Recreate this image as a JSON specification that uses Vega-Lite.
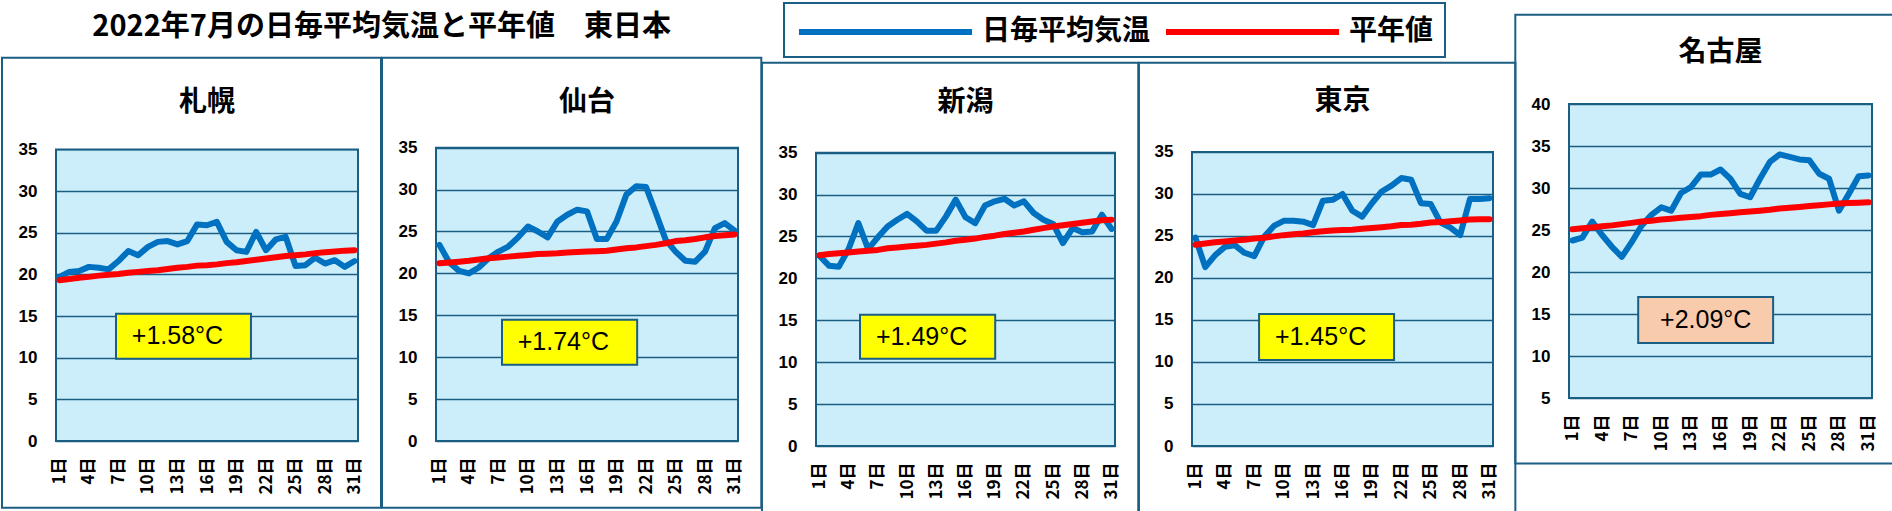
{
"$schema": "https://vega.github.io/schema/vega-lite/v6.json",
"padding": {"left": 0, "top": 2, "right": 0, "bottom": 0},
"background": "#FFFFFF",
"config": {
  "view": {"fill": "#CCEEFB", "stroke": null},
  "font": "Noto Sans CJK JP",
  "title": {"font": "Noto Sans CJK JP", "fontSize": 28, "fontWeight": "bold", "color": "#000000", "anchor": "middle"},
  "axisX": {"labelAngle": 270, "labelPadding": 16, "labelFont": "Noto Sans CJK JP", "labelFontSize": 17, "labelFontWeight": "bold", "labelColor": "#000000", "grid": false, "domain": false, "ticks": false, "labelFlush": false, "labelOverlap": false},
  "axisY": {"labelPadding": 19, "labelFont": "Liberation Sans", "labelFontSize": 17, "labelFontWeight": "bold", "labelColor": "#000000", "grid": true, "gridColor": "#1B5E83", "gridWidth": 1.5, "domain": false, "ticks": false, "labelOverlap": false}
},
"datasets": {
  "stations": [
    {"station": "札幌", "label": "+1.58°C"},
    {"station": "仙台", "label": "+1.74°C"},
    {"station": "新潟", "label": "+1.49°C"},
    {"station": "東京", "label": "+1.45°C"},
    {"station": "名古屋", "label": "+2.09°C"}
  ],
  "temps": [
    {"station":"札幌","day":1,"日毎平均気温":19.7,"平年値":19.3},
    {"station":"札幌","day":2,"日毎平均気温":20.3,"平年値":19.45},
    {"station":"札幌","day":3,"日毎平均気温":20.4,"平年値":19.6},
    {"station":"札幌","day":4,"日毎平均気温":20.9,"平年値":19.7},
    {"station":"札幌","day":5,"日毎平均気温":20.8,"平年値":19.85},
    {"station":"札幌","day":6,"日毎平均気温":20.6,"平年値":19.95},
    {"station":"札幌","day":7,"日毎平均気温":21.6,"平年値":20.05},
    {"station":"札幌","day":8,"日毎平均気温":22.8,"平年値":20.2},
    {"station":"札幌","day":9,"日毎平均気温":22.3,"平年値":20.3},
    {"station":"札幌","day":10,"日毎平均気温":23.3,"平年値":20.4},
    {"station":"札幌","day":11,"日毎平均気温":23.9,"平年値":20.5},
    {"station":"札幌","day":12,"日毎平均気温":24.0,"平年値":20.65},
    {"station":"札幌","day":13,"日毎平均気温":23.6,"平年値":20.8},
    {"station":"札幌","day":14,"日毎平均気温":24.0,"平年値":20.9},
    {"station":"札幌","day":15,"日毎平均気温":26.0,"平年値":21.05},
    {"station":"札幌","day":16,"日毎平均気温":25.9,"平年値":21.1},
    {"station":"札幌","day":17,"日毎平均気温":26.3,"平年値":21.2},
    {"station":"札幌","day":18,"日毎平均気温":23.9,"平年値":21.35},
    {"station":"札幌","day":19,"日毎平均気温":22.9,"平年値":21.45},
    {"station":"札幌","day":20,"日毎平均気温":22.7,"平年値":21.6},
    {"station":"札幌","day":21,"日毎平均気温":25.1,"平年値":21.75},
    {"station":"札幌","day":22,"日毎平均気温":22.9,"平年値":21.9},
    {"station":"札幌","day":23,"日毎平均気温":24.2,"平年値":22.05},
    {"station":"札幌","day":24,"日毎平均気温":24.5,"平年値":22.2},
    {"station":"札幌","day":25,"日毎平均気温":21.0,"平年値":22.3},
    {"station":"札幌","day":26,"日毎平均気温":21.1,"平年値":22.4},
    {"station":"札幌","day":27,"日毎平均気温":22.0,"平年値":22.55},
    {"station":"札幌","day":28,"日毎平均気温":21.3,"平年値":22.65},
    {"station":"札幌","day":29,"日毎平均気温":21.7,"平年値":22.75},
    {"station":"札幌","day":30,"日毎平均気温":20.9,"平年値":22.85},
    {"station":"札幌","day":31,"日毎平均気温":21.6,"平年値":22.9},
    {"station":"仙台","day":1,"日毎平均気温":23.4,"平年値":21.2},
    {"station":"仙台","day":2,"日毎平均気温":21.3,"平年値":21.3},
    {"station":"仙台","day":3,"日毎平均気温":20.3,"平年値":21.4},
    {"station":"仙台","day":4,"日毎平均気温":20.0,"平年値":21.5},
    {"station":"仙台","day":5,"日毎平均気温":20.7,"平年値":21.65},
    {"station":"仙台","day":6,"日毎平均気温":21.8,"平年値":21.8},
    {"station":"仙台","day":7,"日毎平均気温":22.6,"平年値":21.9},
    {"station":"仙台","day":8,"日毎平均気温":23.2,"平年値":22.0},
    {"station":"仙台","day":9,"日毎平均気温":24.3,"平年値":22.1},
    {"station":"仙台","day":10,"日毎平均気温":25.6,"平年値":22.2},
    {"station":"仙台","day":11,"日毎平均気温":25.0,"平年値":22.3},
    {"station":"仙台","day":12,"日毎平均気温":24.3,"平年値":22.35},
    {"station":"仙台","day":13,"日毎平均気温":26.2,"平年値":22.4},
    {"station":"仙台","day":14,"日毎平均気温":27.0,"平年値":22.5},
    {"station":"仙台","day":15,"日毎平均気温":27.6,"平年値":22.55},
    {"station":"仙台","day":16,"日毎平均気温":27.4,"平年値":22.6},
    {"station":"仙台","day":17,"日毎平均気温":24.1,"平年値":22.65},
    {"station":"仙台","day":18,"日毎平均気温":24.1,"平年値":22.7},
    {"station":"仙台","day":19,"日毎平均気温":26.2,"平年値":22.85},
    {"station":"仙台","day":20,"日毎平均気温":29.4,"平年値":23.0},
    {"station":"仙台","day":21,"日毎平均気温":30.4,"平年値":23.1},
    {"station":"仙台","day":22,"日毎平均気温":30.3,"平年値":23.25},
    {"station":"仙台","day":23,"日毎平均気温":27.2,"平年値":23.4},
    {"station":"仙台","day":24,"日毎平均気温":24.0,"平年値":23.6},
    {"station":"仙台","day":25,"日毎平均気温":22.6,"平年値":23.85},
    {"station":"仙台","day":26,"日毎平均気温":21.5,"平年値":23.95},
    {"station":"仙台","day":27,"日毎平均気温":21.4,"平年値":24.1},
    {"station":"仙台","day":28,"日毎平均気温":22.6,"平年値":24.3},
    {"station":"仙台","day":29,"日毎平均気温":25.4,"平年値":24.45},
    {"station":"仙台","day":30,"日毎平均気温":26.0,"平年値":24.55},
    {"station":"仙台","day":31,"日毎平均気温":25.1,"平年値":24.65},
    {"station":"新潟","day":1,"日毎平均気温":22.7,"平年値":22.75},
    {"station":"新潟","day":2,"日毎平均気温":21.5,"平年値":22.9},
    {"station":"新潟","day":3,"日毎平均気温":21.4,"平年値":23.0},
    {"station":"新潟","day":4,"日毎平均気温":23.5,"平年値":23.1},
    {"station":"新潟","day":5,"日毎平均気温":26.6,"平年値":23.2},
    {"station":"新潟","day":6,"日毎平均気温":23.5,"平年値":23.3},
    {"station":"新潟","day":7,"日毎平均気温":24.9,"平年値":23.4},
    {"station":"新潟","day":8,"日毎平均気温":26.2,"平年値":23.6},
    {"station":"新潟","day":9,"日毎平均気温":27.0,"平年値":23.7},
    {"station":"新潟","day":10,"日毎平均気温":27.7,"平年値":23.8},
    {"station":"新潟","day":11,"日毎平均気温":26.8,"平年値":23.9},
    {"station":"新潟","day":12,"日毎平均気温":25.7,"平年値":24.0},
    {"station":"新潟","day":13,"日毎平均気温":25.7,"平年値":24.15},
    {"station":"新潟","day":14,"日毎平均気温":27.4,"平年値":24.3},
    {"station":"新潟","day":15,"日毎平均気温":29.4,"平年値":24.5},
    {"station":"新潟","day":16,"日毎平均気温":27.3,"平年値":24.6},
    {"station":"新潟","day":17,"日毎平均気温":26.6,"平年値":24.75},
    {"station":"新潟","day":18,"日毎平均気温":28.7,"平年値":24.95},
    {"station":"新潟","day":19,"日毎平均気温":29.2,"平年値":25.1},
    {"station":"新潟","day":20,"日毎平均気温":29.5,"平年値":25.3},
    {"station":"新潟","day":21,"日毎平均気温":28.7,"平年値":25.45},
    {"station":"新潟","day":22,"日毎平均気温":29.2,"平年値":25.6},
    {"station":"新潟","day":23,"日毎平均気温":27.8,"平年値":25.8},
    {"station":"新潟","day":24,"日毎平均気温":27.0,"平年値":26.0},
    {"station":"新潟","day":25,"日毎平均気温":26.5,"平年値":26.2},
    {"station":"新潟","day":26,"日毎平均気温":24.2,"平年値":26.35},
    {"station":"新潟","day":27,"日毎平均気温":26.0,"平年値":26.5},
    {"station":"新潟","day":28,"日毎平均気温":25.5,"平年値":26.65},
    {"station":"新潟","day":29,"日毎平均気温":25.6,"平年値":26.8},
    {"station":"新潟","day":30,"日毎平均気温":27.6,"平年値":26.95},
    {"station":"新潟","day":31,"日毎平均気温":25.9,"平年値":27.0},
    {"station":"東京","day":1,"日毎平均気温":24.8,"平年値":23.95},
    {"station":"東京","day":2,"日毎平均気温":21.3,"平年値":24.1},
    {"station":"東京","day":3,"日毎平均気温":22.7,"平年値":24.25},
    {"station":"東京","day":4,"日毎平均気温":23.7,"平年値":24.35},
    {"station":"東京","day":5,"日毎平均気温":23.9,"平年値":24.45},
    {"station":"東京","day":6,"日毎平均気温":23.0,"平年値":24.55},
    {"station":"東京","day":7,"日毎平均気温":22.6,"平年値":24.7},
    {"station":"東京","day":8,"日毎平均気温":24.9,"平年値":24.8},
    {"station":"東京","day":9,"日毎平均気温":26.2,"平年値":24.95},
    {"station":"東京","day":10,"日毎平均気温":26.8,"平年値":25.1},
    {"station":"東京","day":11,"日毎平均気温":26.8,"平年値":25.2},
    {"station":"東京","day":12,"日毎平均気温":26.7,"平年値":25.3},
    {"station":"東京","day":13,"日毎平均気温":26.3,"平年値":25.45},
    {"station":"東京","day":14,"日毎平均気温":29.2,"平年値":25.55},
    {"station":"東京","day":15,"日毎平均気温":29.3,"平年値":25.65},
    {"station":"東京","day":16,"日毎平均気温":30.0,"平年値":25.7},
    {"station":"東京","day":17,"日毎平均気温":28.0,"平年値":25.75},
    {"station":"東京","day":18,"日毎平均気温":27.3,"平年値":25.85},
    {"station":"東京","day":19,"日毎平均気温":28.9,"平年値":25.95},
    {"station":"東京","day":20,"日毎平均気温":30.3,"平年値":26.05},
    {"station":"東京","day":21,"日毎平均気温":31.0,"平年値":26.15},
    {"station":"東京","day":22,"日毎平均気温":31.9,"平年値":26.3},
    {"station":"東京","day":23,"日毎平均気温":31.7,"平年値":26.35},
    {"station":"東京","day":24,"日毎平均気温":28.9,"平年値":26.45},
    {"station":"東京","day":25,"日毎平均気温":28.8,"平年値":26.6},
    {"station":"東京","day":26,"日毎平均気温":26.6,"平年値":26.65},
    {"station":"東京","day":27,"日毎平均気温":26.0,"平年値":26.75},
    {"station":"東京","day":28,"日毎平均気温":25.1,"平年値":26.85},
    {"station":"東京","day":29,"日毎平均気温":29.4,"平年値":26.95},
    {"station":"東京","day":30,"日毎平均気温":29.4,"平年値":27.0},
    {"station":"東京","day":31,"日毎平均気温":29.5,"平年値":27.0},
    {"station":"名古屋","day":1,"日毎平均気温":23.75,"平年値":25.1},
    {"station":"名古屋","day":2,"日毎平均気温":24.1,"平年値":25.2},
    {"station":"名古屋","day":3,"日毎平均気温":26.0,"平年値":25.3},
    {"station":"名古屋","day":4,"日毎平均気温":24.4,"平年値":25.45},
    {"station":"名古屋","day":5,"日毎平均気温":23.0,"平年値":25.55},
    {"station":"名古屋","day":6,"日毎平均気温":21.8,"平年値":25.7},
    {"station":"名古屋","day":7,"日毎平均気温":23.55,"平年値":25.85},
    {"station":"名古屋","day":8,"日毎平均気温":25.5,"平年値":26.0},
    {"station":"名古屋","day":9,"日毎平均気温":26.8,"平年値":26.1},
    {"station":"名古屋","day":10,"日毎平均気温":27.7,"平年値":26.25},
    {"station":"名古屋","day":11,"日毎平均気温":27.3,"平年値":26.35},
    {"station":"名古屋","day":12,"日毎平均気温":29.4,"平年値":26.45},
    {"station":"名古屋","day":13,"日毎平均気温":30.1,"平年値":26.55},
    {"station":"名古屋","day":14,"日毎平均気温":31.6,"平年値":26.65},
    {"station":"名古屋","day":15,"日毎平均気温":31.6,"平年値":26.8},
    {"station":"名古屋","day":16,"日毎平均気温":32.2,"平年値":26.9},
    {"station":"名古屋","day":17,"日毎平均気温":31.1,"平年値":27.0},
    {"station":"名古屋","day":18,"日毎平均気温":29.3,"平年値":27.1},
    {"station":"名古屋","day":19,"日毎平均気温":28.9,"平年値":27.2},
    {"station":"名古屋","day":20,"日毎平均気温":31.1,"平年値":27.3},
    {"station":"名古屋","day":21,"日毎平均気温":33.1,"平年値":27.4},
    {"station":"名古屋","day":22,"日毎平均気温":34.0,"平年値":27.55},
    {"station":"名古屋","day":23,"日毎平均気温":33.7,"平年値":27.65},
    {"station":"名古屋","day":24,"日毎平均気温":33.4,"平年値":27.75},
    {"station":"名古屋","day":25,"日毎平均気温":33.3,"平年値":27.85},
    {"station":"名古屋","day":26,"日毎平均気温":31.7,"平年値":27.95},
    {"station":"名古屋","day":27,"日毎平均気温":31.1,"平年値":28.05},
    {"station":"名古屋","day":28,"日毎平均気温":27.3,"平年値":28.15},
    {"station":"名古屋","day":29,"日毎平均気温":29.3,"平年値":28.2},
    {"station":"名古屋","day":30,"日毎平均気温":31.4,"平年値":28.25},
    {"station":"名古屋","day":31,"日毎平均気温":31.5,"平年値":28.3}
  ]
},
"spacing": -3,
"hconcat": [
  {
    "title": {"text": "2022年7月の日毎平均気温と平年値　東日本", "offset": 15, "fontSize": 29},
    "spacing": -3,
    "hconcat": [
      {
        "width": 302, "height": 337,
        "title": {"text": "札幌", "offset": -60},
        "data": {"name": "stations"},
        "transform": [{"filter": "datum.station === '札幌'"}],
        "layer": [
          {"mark": {"type": "rect", "fill": "#FFFFFF", "strokeWidth": 0},
           "encoding": {"x": {"datum": 0.55, "scale": {"domain": [0.65, 31.35], "nice": false, "zero": false}, "axis": {"title": null, "values": [1,4,7,10,13,16,19,22,25,28,31], "labelExpr": "datum.value + '日'"}}, "x2": {"datum": 31.45}, "y": {"datum": 35, "scale": {"domain": [0, 40.45], "nice": false, "zero": false}, "axis": {"title": null, "values": [0,5,10,15,20,25,30,35]}}, "y2": {"datum": 41.5}}},
          {"mark": {"type": "rect", "fill": "transparent", "stroke": "#1B5E83", "strokeWidth": 2},
           "encoding": {"x": {"datum": -4.84, "scale": {"domain": [0.65, 31.35], "nice": false, "zero": false}, "axis": {"title": null, "values": [1,4,7,10,13,16,19,22,25,28,31], "labelExpr": "datum.value + '日'"}}, "x2": {"datum": 33.69}, "y": {"datum": -8.0, "scale": {"domain": [0, 40.45], "nice": false, "zero": false}, "axis": {"title": null, "values": [0,5,10,15,20,25,30,35]}}, "y2": {"datum": 46.0}}},
          {"mark": {"type": "rect", "fill": "transparent", "stroke": "#1B5E83", "strokeWidth": 2},
           "encoding": {"x": {"datum": 0.65, "scale": {"domain": [0.65, 31.35], "nice": false, "zero": false}, "axis": {"title": null, "values": [1,4,7,10,13,16,19,22,25,28,31], "labelExpr": "datum.value + '日'"}}, "x2": {"datum": 31.35}, "y": {"datum": 0, "scale": {"domain": [0, 40.45], "nice": false, "zero": false}, "axis": {"title": null, "values": [0,5,10,15,20,25,30,35]}}, "y2": {"datum": 35}}},
          {"mark": {"type": "rect", "fill": "#FFFF00", "stroke": "#1B5E83", "strokeWidth": 2},
           "encoding": {"x": {"datum": 6.75, "scale": {"domain": [0.65, 31.35], "nice": false, "zero": false}, "axis": {"title": null, "values": [1,4,7,10,13,16,19,22,25,28,31], "labelExpr": "datum.value + '日'"}}, "x2": {"datum": 20.47}, "y": {"datum": 9.88, "scale": {"domain": [0, 40.45], "nice": false, "zero": false}, "axis": {"title": null, "values": [0,5,10,15,20,25,30,35]}}, "y2": {"datum": 15.28}}},
          {"mark": {"type": "text", "font": "Liberation Sans", "fontSize": 25, "color": "#000000"},
           "encoding": {"x": {"datum": 13.0, "scale": {"domain": [0.65, 31.35], "nice": false, "zero": false}, "axis": {"title": null, "values": [1,4,7,10,13,16,19,22,25,28,31], "labelExpr": "datum.value + '日'"}}, "y": {"datum": 12.58, "scale": {"domain": [0, 40.45], "nice": false, "zero": false}, "axis": {"title": null, "values": [0,5,10,15,20,25,30,35]}}, "text": {"field": "label"}}},
          {"data": {"name": "temps"},
           "transform": [{"filter": "datum.station === '札幌'"}, {"fold": ["日毎平均気温", "平年値"], "as": ["series", "temp"]}],
           "mark": {"type": "line", "strokeWidth": 6, "strokeJoin": "round", "strokeCap": "round"},
           "encoding": {
             "x": {"field": "day", "type": "quantitative", "scale": {"domain": [0.65, 31.35], "nice": false, "zero": false}, "axis": {"title": null, "values": [1,4,7,10,13,16,19,22,25,28,31], "labelExpr": "datum.value + '日'"}},
             "y": {"field": "temp", "type": "quantitative", "scale": {"domain": [0, 40.45], "nice": false, "zero": false}, "axis": {"title": null, "values": [0,5,10,15,20,25,30,35]}},
             "color": {"field": "series", "type": "nominal", "title": null, "scale": {"domain": ["日毎平均気温", "平年値"], "range": ["#0070C0", "#FF0000"]},
               "legend": {"orient": "none", "legendX": 728, "legendY": -101, "direction": "horizontal", "symbolType": "M-5.77,0H5.77", "symbolSize": 900, "symbolStrokeWidth": 6, "symbolOffset": 72.5, "labelOffset": 78.5, "columnPadding": 2, "padding": 11, "labelFont": "Noto Sans CJK JP", "labelFontSize": 28, "labelFontWeight": "bold", "labelColor": "#000000", "labelLimit": 400, "strokeColor": "#1B5E83", "fillColor": "#FFFFFF",
                 "encode": {"legend": {"update": {"strokeWidth": {"value": 2}}}, "symbols": {"update": {"fill": {"value": "transparent"}, "strokeWidth": {"value": 6}, "stroke": {"signal": "datum.value === '日毎平均気温' ? '#1B5E83' : '#FF0000'"}}}}}}
           }}
        ]
      },
      {
        "width": 302, "height": 337,
        "title": {"text": "仙台", "offset": -60},
        "data": {"name": "stations"},
        "transform": [{"filter": "datum.station === '仙台'"}],
        "layer": [
          {"mark": {"type": "rect", "fill": "#FFFFFF", "strokeWidth": 0},
           "encoding": {"x": {"datum": 0.55, "scale": {"domain": [0.65, 31.35], "nice": false, "zero": false}, "axis": {"title": null, "values": [1,4,7,10,13,16,19,22,25,28,31], "labelExpr": "datum.value + '日'"}}, "x2": {"datum": 31.45}, "y": {"datum": 35, "scale": {"domain": [0, 40.21], "nice": false, "zero": false}, "axis": {"title": null, "values": [0,5,10,15,20,25,30,35]}}, "y2": {"datum": 41.3}}},
          {"mark": {"type": "rect", "fill": "transparent", "stroke": "#1B5E83", "strokeWidth": 2},
           "encoding": {"x": {"datum": -4.84, "scale": {"domain": [0.65, 31.35], "nice": false, "zero": false}, "axis": {"title": null, "values": [1,4,7,10,13,16,19,22,25,28,31], "labelExpr": "datum.value + '日'"}}, "x2": {"datum": 33.72}, "y": {"datum": -7.96, "scale": {"domain": [0, 40.21], "nice": false, "zero": false}, "axis": {"title": null, "values": [0,5,10,15,20,25,30,35]}}, "y2": {"datum": 45.74}}},
          {"mark": {"type": "rect", "fill": "transparent", "stroke": "#1B5E83", "strokeWidth": 2},
           "encoding": {"x": {"datum": 0.65, "scale": {"domain": [0.65, 31.35], "nice": false, "zero": false}, "axis": {"title": null, "values": [1,4,7,10,13,16,19,22,25,28,31], "labelExpr": "datum.value + '日'"}}, "x2": {"datum": 31.35}, "y": {"datum": 0, "scale": {"domain": [0, 40.21], "nice": false, "zero": false}, "axis": {"title": null, "values": [0,5,10,15,20,25,30,35]}}, "y2": {"datum": 35}}},
          {"mark": {"type": "rect", "fill": "#FFFF00", "stroke": "#1B5E83", "strokeWidth": 2},
           "encoding": {"x": {"datum": 7.36, "scale": {"domain": [0.65, 31.35], "nice": false, "zero": false}, "axis": {"title": null, "values": [1,4,7,10,13,16,19,22,25,28,31], "labelExpr": "datum.value + '日'"}}, "x2": {"datum": 21.1}, "y": {"datum": 9.1, "scale": {"domain": [0, 40.21], "nice": false, "zero": false}, "axis": {"title": null, "values": [0,5,10,15,20,25,30,35]}}, "y2": {"datum": 14.47}}},
          {"mark": {"type": "text", "font": "Liberation Sans", "fontSize": 25, "color": "#000000"},
           "encoding": {"x": {"datum": 13.6, "scale": {"domain": [0.65, 31.35], "nice": false, "zero": false}, "axis": {"title": null, "values": [1,4,7,10,13,16,19,22,25,28,31], "labelExpr": "datum.value + '日'"}}, "y": {"datum": 11.79, "scale": {"domain": [0, 40.21], "nice": false, "zero": false}, "axis": {"title": null, "values": [0,5,10,15,20,25,30,35]}}, "text": {"field": "label"}}},
          {"data": {"name": "temps"},
           "transform": [{"filter": "datum.station === '仙台'"}, {"fold": ["日毎平均気温", "平年値"], "as": ["series", "temp"]}],
           "mark": {"type": "line", "strokeWidth": 6, "strokeJoin": "round", "strokeCap": "round"},
           "encoding": {
             "x": {"field": "day", "type": "quantitative", "scale": {"domain": [0.65, 31.35], "nice": false, "zero": false}, "axis": {"title": null, "values": [1,4,7,10,13,16,19,22,25,28,31], "labelExpr": "datum.value + '日'"}},
             "y": {"field": "temp", "type": "quantitative", "scale": {"domain": [0, 40.21], "nice": false, "zero": false}, "axis": {"title": null, "values": [0,5,10,15,20,25,30,35]}},
             "color": {"field": "series", "type": "nominal", "title": null, "scale": {"domain": ["日毎平均気温", "平年値"], "range": ["#0070C0", "#FF0000"]},
               "legend": {"orient": "none", "legendX": 728, "legendY": -101, "direction": "horizontal", "symbolType": "M-5.77,0H5.77", "symbolSize": 900, "symbolStrokeWidth": 6, "symbolOffset": 72.5, "labelOffset": 78.5, "columnPadding": 2, "padding": 11, "labelFont": "Noto Sans CJK JP", "labelFontSize": 28, "labelFontWeight": "bold", "labelColor": "#000000", "labelLimit": 400, "strokeColor": "#1B5E83", "fillColor": "#FFFFFF",
                 "encode": {"legend": {"update": {"strokeWidth": {"value": 2}}}, "symbols": {"update": {"fill": {"value": "transparent"}, "strokeWidth": {"value": 6}, "stroke": {"signal": "datum.value === '日毎平均気温' ? '#1B5E83' : '#FF0000'"}}}}}}
           }}
        ]
      }
    ]
  },
  {
    "spacing": -3,
    "hconcat": [
      {
        "width": 299, "height": 342,
        "title": {"text": "新潟", "offset": -55},
        "data": {"name": "stations"},
        "transform": [{"filter": "datum.station === '新潟'"}],
        "layer": [
          {"mark": {"type": "rect", "fill": "#FFFFFF", "strokeWidth": 0},
           "encoding": {"x": {"datum": 0.55, "scale": {"domain": [0.65, 31.35], "nice": false, "zero": false}, "axis": {"title": null, "values": [1,4,7,10,13,16,19,22,25,28,31], "labelExpr": "datum.value + '日'"}}, "x2": {"datum": 31.45}, "y": {"datum": 35, "scale": {"domain": [0, 40.81], "nice": false, "zero": false}, "axis": {"title": null, "values": [0,5,10,15,20,25,30,35]}}, "y2": {"datum": 41.9}}},
          {"mark": {"type": "rect", "fill": "transparent", "stroke": "#1B5E83", "strokeWidth": 2},
           "encoding": {"x": {"datum": -4.90, "scale": {"domain": [0.65, 31.35], "nice": false, "zero": false}, "axis": {"title": null, "values": [1,4,7,10,13,16,19,22,25,28,31], "labelExpr": "datum.value + '日'"}}, "x2": {"datum": 33.74}, "y": {"datum": -7.96, "scale": {"domain": [0, 40.81], "nice": false, "zero": false}, "axis": {"title": null, "values": [0,5,10,15,20,25,30,35]}}, "y2": {"datum": 45.74}}},
          {"mark": {"type": "rect", "fill": "transparent", "stroke": "#1B5E83", "strokeWidth": 2},
           "encoding": {"x": {"datum": 0.65, "scale": {"domain": [0.65, 31.35], "nice": false, "zero": false}, "axis": {"title": null, "values": [1,4,7,10,13,16,19,22,25,28,31], "labelExpr": "datum.value + '日'"}}, "x2": {"datum": 31.35}, "y": {"datum": 0, "scale": {"domain": [0, 40.81], "nice": false, "zero": false}, "axis": {"title": null, "values": [0,5,10,15,20,25,30,35]}}, "y2": {"datum": 35}}},
          {"mark": {"type": "rect", "fill": "#FFFF00", "stroke": "#1B5E83", "strokeWidth": 2},
           "encoding": {"x": {"datum": 5.17, "scale": {"domain": [0.65, 31.35], "nice": false, "zero": false}, "axis": {"title": null, "values": [1,4,7,10,13,16,19,22,25,28,31], "labelExpr": "datum.value + '日'"}}, "x2": {"datum": 19.05}, "y": {"datum": 10.42, "scale": {"domain": [0, 40.81], "nice": false, "zero": false}, "axis": {"title": null, "values": [0,5,10,15,20,25,30,35]}}, "y2": {"datum": 15.67}}},
          {"mark": {"type": "text", "font": "Liberation Sans", "fontSize": 25, "color": "#000000"},
           "encoding": {"x": {"datum": 11.5, "scale": {"domain": [0.65, 31.35], "nice": false, "zero": false}, "axis": {"title": null, "values": [1,4,7,10,13,16,19,22,25,28,31], "labelExpr": "datum.value + '日'"}}, "y": {"datum": 13.05, "scale": {"domain": [0, 40.81], "nice": false, "zero": false}, "axis": {"title": null, "values": [0,5,10,15,20,25,30,35]}}, "text": {"field": "label"}}},
          {"data": {"name": "temps"},
           "transform": [{"filter": "datum.station === '新潟'"}, {"fold": ["日毎平均気温", "平年値"], "as": ["series", "temp"]}],
           "mark": {"type": "line", "strokeWidth": 6, "strokeJoin": "round", "strokeCap": "round"},
           "encoding": {
             "x": {"field": "day", "type": "quantitative", "scale": {"domain": [0.65, 31.35], "nice": false, "zero": false}, "axis": {"title": null, "values": [1,4,7,10,13,16,19,22,25,28,31], "labelExpr": "datum.value + '日'"}},
             "y": {"field": "temp", "type": "quantitative", "scale": {"domain": [0, 40.81], "nice": false, "zero": false}, "axis": {"title": null, "values": [0,5,10,15,20,25,30,35]}},
             "color": {"field": "series", "type": "nominal", "title": null, "scale": {"domain": ["日毎平均気温", "平年値"], "range": ["#0070C0", "#FF0000"]},
               "legend": {"orient": "none", "legendX": 728, "legendY": -101, "direction": "horizontal", "symbolType": "M-5.77,0H5.77", "symbolSize": 900, "symbolStrokeWidth": 6, "symbolOffset": 72.5, "labelOffset": 78.5, "columnPadding": 2, "padding": 11, "labelFont": "Noto Sans CJK JP", "labelFontSize": 28, "labelFontWeight": "bold", "labelColor": "#000000", "labelLimit": 400, "strokeColor": "#1B5E83", "fillColor": "#FFFFFF",
                 "encode": {"legend": {"update": {"strokeWidth": {"value": 2}}}, "symbols": {"update": {"fill": {"value": "transparent"}, "strokeWidth": {"value": 6}, "stroke": {"signal": "datum.value === '日毎平均気温' ? '#1B5E83' : '#FF0000'"}}}}}}
           }}
        ]
      },
      {
        "width": 301, "height": 342,
        "title": {"text": "東京", "offset": -54},
        "data": {"name": "stations"},
        "transform": [{"filter": "datum.station === '東京'"}],
        "layer": [
          {"mark": {"type": "rect", "fill": "#FFFFFF", "strokeWidth": 0},
           "encoding": {"x": {"datum": 0.55, "scale": {"domain": [0.65, 31.35], "nice": false, "zero": false}, "axis": {"title": null, "values": [1,4,7,10,13,16,19,22,25,28,31], "labelExpr": "datum.value + '日'"}}, "x2": {"datum": 31.45}, "y": {"datum": 35, "scale": {"domain": [0, 40.71], "nice": false, "zero": false}, "axis": {"title": null, "values": [0,5,10,15,20,25,30,35]}}, "y2": {"datum": 41.8}}},
          {"mark": {"type": "rect", "fill": "transparent", "stroke": "#1B5E83", "strokeWidth": 2},
           "encoding": {"x": {"datum": -4.76, "scale": {"domain": [0.65, 31.35], "nice": false, "zero": false}, "axis": {"title": null, "values": [1,4,7,10,13,16,19,22,25,28,31], "labelExpr": "datum.value + '日'"}}, "x2": {"datum": 33.63}, "y": {"datum": -7.86, "scale": {"domain": [0, 40.71], "nice": false, "zero": false}, "axis": {"title": null, "values": [0,5,10,15,20,25,30,35]}}, "y2": {"datum": 45.63}}},
          {"mark": {"type": "rect", "fill": "transparent", "stroke": "#1B5E83", "strokeWidth": 2},
           "encoding": {"x": {"datum": 0.65, "scale": {"domain": [0.65, 31.35], "nice": false, "zero": false}, "axis": {"title": null, "values": [1,4,7,10,13,16,19,22,25,28,31], "labelExpr": "datum.value + '日'"}}, "x2": {"datum": 31.35}, "y": {"datum": 0, "scale": {"domain": [0, 40.71], "nice": false, "zero": false}, "axis": {"title": null, "values": [0,5,10,15,20,25,30,35]}}, "y2": {"datum": 35}}},
          {"mark": {"type": "rect", "fill": "#FFFF00", "stroke": "#1B5E83", "strokeWidth": 2},
           "encoding": {"x": {"datum": 7.49, "scale": {"domain": [0.65, 31.35], "nice": false, "zero": false}, "axis": {"title": null, "values": [1,4,7,10,13,16,19,22,25,28,31], "labelExpr": "datum.value + '日'"}}, "x2": {"datum": 21.26}, "y": {"datum": 10.24, "scale": {"domain": [0, 40.71], "nice": false, "zero": false}, "axis": {"title": null, "values": [0,5,10,15,20,25,30,35]}}, "y2": {"datum": 15.71}}},
          {"mark": {"type": "text", "font": "Liberation Sans", "fontSize": 25, "color": "#000000"},
           "encoding": {"x": {"datum": 13.76, "scale": {"domain": [0.65, 31.35], "nice": false, "zero": false}, "axis": {"title": null, "values": [1,4,7,10,13,16,19,22,25,28,31], "labelExpr": "datum.value + '日'"}}, "y": {"datum": 12.98, "scale": {"domain": [0, 40.71], "nice": false, "zero": false}, "axis": {"title": null, "values": [0,5,10,15,20,25,30,35]}}, "text": {"field": "label"}}},
          {"data": {"name": "temps"},
           "transform": [{"filter": "datum.station === '東京'"}, {"fold": ["日毎平均気温", "平年値"], "as": ["series", "temp"]}],
           "mark": {"type": "line", "strokeWidth": 6, "strokeJoin": "round", "strokeCap": "round"},
           "encoding": {
             "x": {"field": "day", "type": "quantitative", "scale": {"domain": [0.65, 31.35], "nice": false, "zero": false}, "axis": {"title": null, "values": [1,4,7,10,13,16,19,22,25,28,31], "labelExpr": "datum.value + '日'"}},
             "y": {"field": "temp", "type": "quantitative", "scale": {"domain": [0, 40.71], "nice": false, "zero": false}, "axis": {"title": null, "values": [0,5,10,15,20,25,30,35]}},
             "color": {"field": "series", "type": "nominal", "title": null, "scale": {"domain": ["日毎平均気温", "平年値"], "range": ["#0070C0", "#FF0000"]},
               "legend": {"orient": "none", "legendX": 728, "legendY": -101, "direction": "horizontal", "symbolType": "M-5.77,0H5.77", "symbolSize": 900, "symbolStrokeWidth": 6, "symbolOffset": 72.5, "labelOffset": 78.5, "columnPadding": 2, "padding": 11, "labelFont": "Noto Sans CJK JP", "labelFontSize": 28, "labelFontWeight": "bold", "labelColor": "#000000", "labelLimit": 400, "strokeColor": "#1B5E83", "fillColor": "#FFFFFF",
                 "encode": {"legend": {"update": {"strokeWidth": {"value": 2}}}, "symbols": {"update": {"fill": {"value": "transparent"}, "strokeWidth": {"value": 6}, "stroke": {"signal": "datum.value === '日毎平均気温' ? '#1B5E83' : '#FF0000'"}}}}}}
           }}
        ]
      }
    ]
  },
  {
    "width": 303, "height": 294,
    "title": {"text": "名古屋", "offset": -53},
    "data": {"name": "stations"},
    "transform": [{"filter": "datum.station === '名古屋'"}],
    "layer": [
      {"mark": {"type": "rect", "fill": "transparent", "stroke": "#1B5E83", "strokeWidth": 2},
       "encoding": {"x": {"datum": -4.79, "scale": {"domain": [0.65, 31.35], "nice": false, "zero": false}, "axis": {"title": null, "values": [1,4,7,10,13,16,19,22,25,28,31], "labelExpr": "datum.value + '日'"}}, "x2": {"datum": 33.68}, "y": {"datum": -2.81, "scale": {"domain": [5, 40], "nice": false, "zero": false}, "axis": {"title": null, "values": [5,10,15,20,25,30,35,40]}}, "y2": {"datum": 50.63}}},
      {"mark": {"type": "rect", "fill": "transparent", "stroke": "#1B5E83", "strokeWidth": 2},
       "encoding": {"x": {"datum": 0.65, "scale": {"domain": [0.65, 31.35], "nice": false, "zero": false}, "axis": {"title": null, "values": [1,4,7,10,13,16,19,22,25,28,31], "labelExpr": "datum.value + '日'"}}, "x2": {"datum": 31.35}, "y": {"datum": 5, "scale": {"domain": [5, 40], "nice": false, "zero": false}, "axis": {"title": null, "values": [5,10,15,20,25,30,35,40]}}, "y2": {"datum": 40}}},
      {"mark": {"type": "rect", "fill": "#F8CBAD", "stroke": "#1B5E83", "strokeWidth": 2},
       "encoding": {"x": {"datum": 7.66, "scale": {"domain": [0.65, 31.35], "nice": false, "zero": false}, "axis": {"title": null, "values": [1,4,7,10,13,16,19,22,25,28,31], "labelExpr": "datum.value + '日'"}}, "x2": {"datum": 21.33}, "y": {"datum": 11.55, "scale": {"domain": [5, 40], "nice": false, "zero": false}, "axis": {"title": null, "values": [5,10,15,20,25,30,35,40]}}, "y2": {"datum": 17.02}}},
      {"mark": {"type": "text", "font": "Liberation Sans", "fontSize": 25, "color": "#000000"},
       "encoding": {"x": {"datum": 14.5, "scale": {"domain": [0.65, 31.35], "nice": false, "zero": false}, "axis": {"title": null, "values": [1,4,7,10,13,16,19,22,25,28,31], "labelExpr": "datum.value + '日'"}}, "y": {"datum": 14.29, "scale": {"domain": [5, 40], "nice": false, "zero": false}, "axis": {"title": null, "values": [5,10,15,20,25,30,35,40]}}, "text": {"field": "label"}}},
      {"data": {"name": "temps"},
       "transform": [{"filter": "datum.station === '名古屋'"}, {"fold": ["日毎平均気温", "平年値"], "as": ["series", "temp"]}],
       "mark": {"type": "line", "strokeWidth": 6, "strokeJoin": "round", "strokeCap": "round"},
       "encoding": {
         "x": {"field": "day", "type": "quantitative", "scale": {"domain": [0.65, 31.35], "nice": false, "zero": false}, "axis": {"title": null, "values": [1,4,7,10,13,16,19,22,25,28,31], "labelExpr": "datum.value + '日'"}},
         "y": {"field": "temp", "type": "quantitative", "scale": {"domain": [5, 40], "nice": false, "zero": false}, "axis": {"title": null, "values": [5,10,15,20,25,30,35,40]}},
         "color": {"field": "series", "type": "nominal", "title": null, "scale": {"domain": ["日毎平均気温", "平年値"], "range": ["#0070C0", "#FF0000"]},
           "legend": {"orient": "none", "legendX": 728, "legendY": -101, "direction": "horizontal", "symbolType": "M-5.77,0H5.77", "symbolSize": 900, "symbolStrokeWidth": 6, "symbolOffset": 72.5, "labelOffset": 78.5, "columnPadding": 2, "padding": 11, "labelFont": "Noto Sans CJK JP", "labelFontSize": 28, "labelFontWeight": "bold", "labelColor": "#000000", "labelLimit": 400, "strokeColor": "#1B5E83", "fillColor": "#FFFFFF",
             "encode": {"legend": {"update": {"strokeWidth": {"value": 2}}}, "symbols": {"update": {"fill": {"value": "transparent"}, "strokeWidth": {"value": 6}, "stroke": {"signal": "datum.value === '日毎平均気温' ? '#1B5E83' : '#FF0000'"}}}}}}
       }}
    ]
  }
]
}
